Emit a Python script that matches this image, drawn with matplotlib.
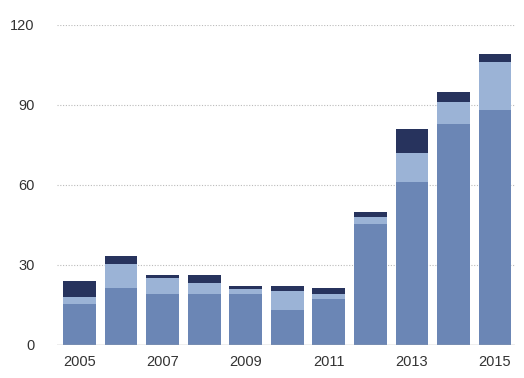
import matplotlib.pyplot as plt
import numpy as np

years = [2005, 2006, 2007, 2008, 2009, 2010, 2011, 2012, 2013, 2014, 2015]
base = [15.3, 21.3, 19.1, 19.1, 19.1, 13.1, 17.1, 45.4, 61, 83, 88]
middle = [2.8, 9.0, 6.1, 4.3, 2.0, 7.1, 2.0, 2.6, 11, 8, 18]
top = [6.0, 3.1, 1.1, 2.9, 1.0, 1.9, 2.2, 2.0, 9, 4, 3]
yticks = [0, 30, 60, 90, 120]
xlabels = [2005, 2007, 2009, 2011, 2013, 2015]

c_base = "#6b86b5"
c_mid = "#9bb3d6"
c_top = "#27335d"

plt.rcParams["font.family"] = ["Liberation Sans", "DejaVu Sans"]

fig = plt.figure(figsize=(5.24, 3.78), dpi=100)
ax = fig.add_axes([57 / 524, 1 - 345 / 378, (515 - 57) / 524, (345 - 25) / 378])

x = np.array(years)
b1 = np.array(base)
b2 = b1 + np.array(middle)
w = 0.79
ax.bar(x, base, width=w, color=c_base, zorder=2)
ax.bar(x, middle, width=w, bottom=b1, color=c_mid, zorder=2)
ax.bar(x, top, width=w, bottom=b2, color=c_top, zorder=2)

ax.set_xlim(2004.46, 2015.48)
ax.set_ylim(0, 120)
ax.set_yticks(yticks)
ax.set_xticks(xlabels)
for yv in yticks[1:]:
    ax.axhline(yv, color="#bbbbbb", lw=0.8, ls=(0, (1, 1.5)), zorder=1)
ax.axhline(0, color="#aaaaaa", lw=1.0, zorder=3)

for s in ax.spines.values():
    s.set_visible(False)
ax.tick_params(axis="both", length=0, labelsize=10.5, colors="#333333")
ax.tick_params(axis="y", pad=16)
ax.tick_params(axis="x", pad=7)

fig.savefig("out.png", dpi=100)
